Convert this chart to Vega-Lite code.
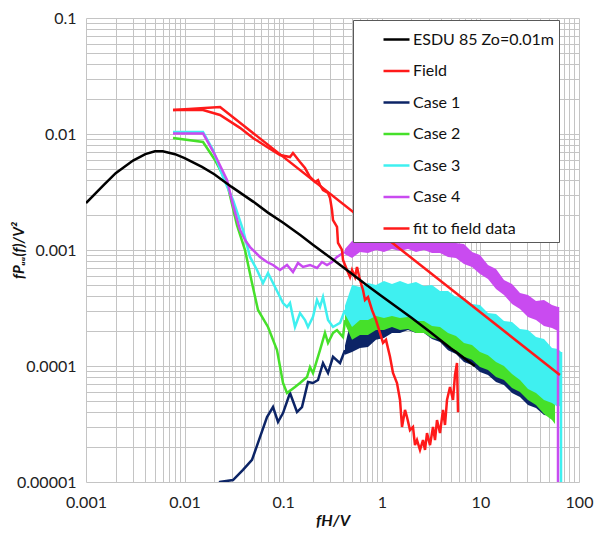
{
"$schema": "https://vega.github.io/schema/vega-lite/v6.json",
"width": 493, "height": 464,
"autosize": "none",
"padding": {"left": 86, "top": 18, "right": 15, "bottom": 53},
"background": "white",
"config": {
  "view": {"stroke": null},
  "axis": {"gridColor": "#c4c4c4", "gridWidth": 1, "domain": false, "ticks": false, "labelFont": "Lato", "labelFontSize": 16, "labelColor": "#222222", "titleFont": "Lato", "titleFontSize": 16, "titleColor": "#111111", "titleFontStyle": "italic", "titleFontWeight": "bold"},
  "legend": {"labelFont": "Lato", "labelFontSize": 16, "labelColor": "#111111"}
},
"datasets": {
"bands": [
{"s":"Case 1","f":0.4233,"v":0.00015,"v2":0.000125},{"s":"Case 1","f":0.4988,"v":0.000275,"v2":0.000132},{"s":"Case 1","f":0.6009,"v":0.000275,"v2":0.000143},{"s":"Case 1","f":0.7244,"v":0.00031,"v2":0.000146},{"s":"Case 1","f":0.8732,"v":0.000304,"v2":0.000168},{"s":"Case 1","f":1.052,"v":0.000336,"v2":0.000174},{"s":"Case 1","f":1.269,"v":0.000329,"v2":0.000193},{"s":"Case 1","f":1.53,"v":0.000356,"v2":0.000193},{"s":"Case 1","f":1.844,"v":0.000336,"v2":0.000204},{"s":"Case 1","f":2.223,"v":0.000356,"v2":0.000193},{"s":"Case 1","f":2.679,"v":0.000329,"v2":0.000193},{"s":"Case 1","f":3.229,"v":0.000336,"v2":0.000171},{"s":"Case 1","f":3.893,"v":0.000298,"v2":0.000161},{"s":"Case 1","f":4.693,"v":0.000298,"v2":0.000137},{"s":"Case 1","f":5.656,"v":0.000265,"v2":0.000127},{"s":"Case 1","f":6.818,"v":0.000259,"v2":0.000108},{"s":"Case 1","f":8.218,"v":0.000226,"v2":0.000102},{"s":"Case 1","f":9.908,"v":0.000221,"v2":0.0000888},{"s":"Case 1","f":11.94,"v":0.000193,"v2":0.0000836},{"s":"Case 1","f":14.4,"v":0.000189,"v2":0.0000728},{"s":"Case 1","f":17.35,"v":0.000161,"v2":0.0000686},{"s":"Case 1","f":20.92,"v":0.000158,"v2":0.0000585},{"s":"Case 1","f":25.21,"v":0.000137,"v2":0.0000541},{"s":"Case 1","f":30.39,"v":0.000132,"v2":0.0000461},{"s":"Case 1","f":36.64,"v":0.000113,"v2":0.0000434},{"s":"Case 1","f":44.16,"v":0.000108,"v2":0.0000378},{"s":"Case 1","f":53.23,"v":0.0000924,"v2":0.0000371},{"s":"Case 1","f":57.1,"v":0.0000942,"v2":0.0000342},
{"s":"Case 2","f":0.4233,"v":0.00027,"v2":0.00023},{"s":"Case 2","f":0.4988,"v":0.000426,"v2":0.000168},{"s":"Case 2","f":0.6009,"v":0.000426,"v2":0.000185},{"s":"Case 2","f":0.7244,"v":0.00048,"v2":0.000185},{"s":"Case 2","f":0.8732,"v":0.00047,"v2":0.000204},{"s":"Case 2","f":1.052,"v":0.000509,"v2":0.000204},{"s":"Case 2","f":1.269,"v":0.000489,"v2":0.000217},{"s":"Case 2","f":1.53,"v":0.000519,"v2":0.000204},{"s":"Case 2","f":1.844,"v":0.000489,"v2":0.000208},{"s":"Case 2","f":2.223,"v":0.000509,"v2":0.000193},{"s":"Case 2","f":2.679,"v":0.00047,"v2":0.000193},{"s":"Case 2","f":3.229,"v":0.00048,"v2":0.000174},{"s":"Case 2","f":3.893,"v":0.000426,"v2":0.000168},{"s":"Case 2","f":4.693,"v":0.000426,"v2":0.000146},{"s":"Case 2","f":5.656,"v":0.000378,"v2":0.000137},{"s":"Case 2","f":6.818,"v":0.000378,"v2":0.00012},{"s":"Case 2","f":8.218,"v":0.000329,"v2":0.000113},{"s":"Case 2","f":9.908,"v":0.000323,"v2":0.000098},{"s":"Case 2","f":11.94,"v":0.000281,"v2":0.0000924},{"s":"Case 2","f":14.4,"v":0.00027,"v2":0.0000804},{"s":"Case 2","f":17.35,"v":0.000235,"v2":0.0000757},{"s":"Case 2","f":20.92,"v":0.000226,"v2":0.0000646},{"s":"Case 2","f":25.21,"v":0.000196,"v2":0.0000597},{"s":"Case 2","f":30.39,"v":0.000189,"v2":0.0000509},{"s":"Case 2","f":36.64,"v":0.000161,"v2":0.0000461},{"s":"Case 2","f":44.16,"v":0.000158,"v2":0.0000386},{"s":"Case 2","f":53.23,"v":0.000132,"v2":0.0000342},{"s":"Case 2","f":57.1,"v":0.000132,"v2":0.0000316},
{"s":"Case 3","f":0.4233,"v":0.00033,"v2":0.00028},{"s":"Case 3","f":0.4988,"v":0.000499,"v2":0.000217},{"s":"Case 3","f":0.6009,"v":0.00048,"v2":0.000249},{"s":"Case 3","f":0.7244,"v":0.000519,"v2":0.000249},{"s":"Case 3","f":0.8732,"v":0.000499,"v2":0.00027},{"s":"Case 3","f":1.052,"v":0.00054,"v2":0.000259},{"s":"Case 3","f":1.269,"v":0.000509,"v2":0.00027},{"s":"Case 3","f":1.53,"v":0.00054,"v2":0.000259},{"s":"Case 3","f":1.844,"v":0.000509,"v2":0.000265},{"s":"Case 3","f":2.223,"v":0.00053,"v2":0.000244},{"s":"Case 3","f":2.679,"v":0.000489,"v2":0.000244},{"s":"Case 3","f":3.229,"v":0.000499,"v2":0.000221},{"s":"Case 3","f":3.893,"v":0.000443,"v2":0.000217},{"s":"Case 3","f":4.693,"v":0.000443,"v2":0.000193},{"s":"Case 3","f":5.656,"v":0.000393,"v2":0.000181},{"s":"Case 3","f":6.818,"v":0.000386,"v2":0.000158},{"s":"Case 3","f":8.218,"v":0.000342,"v2":0.000152},{"s":"Case 3","f":9.908,"v":0.000336,"v2":0.000132},{"s":"Case 3","f":11.94,"v":0.000286,"v2":0.000124},{"s":"Case 3","f":14.4,"v":0.000281,"v2":0.000108},{"s":"Case 3","f":17.35,"v":0.000244,"v2":0.0001},{"s":"Case 3","f":20.92,"v":0.00024,"v2":0.0000853},{"s":"Case 3","f":25.21,"v":0.000208,"v2":0.0000757},{"s":"Case 3","f":30.39,"v":0.000204,"v2":0.0000633},{"s":"Case 3","f":36.64,"v":0.000178,"v2":0.0000585},{"s":"Case 3","f":44.16,"v":0.000171,"v2":0.0000509},{"s":"Case 3","f":53.23,"v":0.000143,"v2":0.000048},{"s":"Case 3","f":61.24,"v":0.00014,"v2":0.0000443},{"s":"Case 3","f":65.71,"v":0.000132,"v2":0.0000461},
{"s":"Case 4","f":0.4233,"v":0.00102,"v2":0.00092},{"s":"Case 4","f":0.4988,"v":0.001196,"v2":0.000853},{"s":"Case 4","f":0.6009,"v":0.00122,"v2":0.000961},{"s":"Case 4","f":0.7244,"v":0.001346,"v2":0.000942},{"s":"Case 4","f":0.8732,"v":0.001294,"v2":0.001},{"s":"Case 4","f":1.052,"v":0.001401,"v2":0.000961},{"s":"Case 4","f":1.269,"v":0.001346,"v2":0.00102},{"s":"Case 4","f":1.53,"v":0.001429,"v2":0.00098},{"s":"Case 4","f":1.844,"v":0.001374,"v2":0.00102},{"s":"Case 4","f":2.223,"v":0.001458,"v2":0.000961},{"s":"Case 4","f":2.679,"v":0.001346,"v2":0.001},{"s":"Case 4","f":3.229,"v":0.001401,"v2":0.000942},{"s":"Case 4","f":3.893,"v":0.001294,"v2":0.000942},{"s":"Case 4","f":4.693,"v":0.001294,"v2":0.000871},{"s":"Case 4","f":5.656,"v":0.001149,"v2":0.000853},{"s":"Case 4","f":6.818,"v":0.001126,"v2":0.000757},{"s":"Case 4","f":8.218,"v":0.000961,"v2":0.000714},{"s":"Case 4","f":9.908,"v":0.000906,"v2":0.000621},{"s":"Case 4","f":11.94,"v":0.000743,"v2":0.000562},{"s":"Case 4","f":14.4,"v":0.000686,"v2":0.000461},{"s":"Case 4","f":17.35,"v":0.000551,"v2":0.000409},{"s":"Case 4","f":20.92,"v":0.000509,"v2":0.000342},{"s":"Case 4","f":25.21,"v":0.000426,"v2":0.00031},{"s":"Case 4","f":30.39,"v":0.000409,"v2":0.000265},{"s":"Case 4","f":36.64,"v":0.000363,"v2":0.000249},{"s":"Case 4","f":44.16,"v":0.000371,"v2":0.000221},{"s":"Case 4","f":53.23,"v":0.000336,"v2":0.000213},{"s":"Case 4","f":61.24,"v":0.000323,"v2":0.0002}
],
"cases": [
{"s":"Case 1","p":"a","f":0.02033,"v":0.0000085},{"s":"Case 1","p":"a","f":0.02286,"v":0.00001},{"s":"Case 1","p":"a","f":0.03097,"v":0.0000104},{"s":"Case 1","p":"a","f":0.03911,"v":0.0000127},{"s":"Case 1","p":"a","f":0.04826,"v":0.0000155},{"s":"Case 1","p":"a","f":0.05816,"v":0.0000244},{"s":"Case 1","p":"a","f":0.06852,"v":0.0000363},{"s":"Case 1","p":"a","f":0.07883,"v":0.0000443},{"s":"Case 1","p":"a","f":0.08859,"v":0.0000329},{"s":"Case 1","p":"a","f":0.09954,"v":0.0000393},{"s":"Case 1","p":"a","f":0.1172,"v":0.0000585},{"s":"Case 1","p":"a","f":0.138,"v":0.0000401},{"s":"Case 1","p":"a","f":0.1551,"v":0.0000443},{"s":"Case 1","p":"a","f":0.1784,"v":0.0000728},{"s":"Case 1","p":"a","f":0.2005,"v":0.0000714},{"s":"Case 1","p":"a","f":0.2254,"v":0.0000757},{"s":"Case 1","p":"a","f":0.2533,"v":0.000106},{"s":"Case 1","p":"a","f":0.2848,"v":0.000087},{"s":"Case 1","p":"a","f":0.32,"v":0.00012},{"s":"Case 1","p":"a","f":0.3769,"v":0.000106},{"s":"Case 1","p":"a","f":0.4233,"v":0.000137},
{"s":"Case 2","p":"a","f":0.00763,"v":0.00924},{"s":"Case 2","p":"a","f":0.01537,"v":0.00853},{"s":"Case 2","p":"a","f":0.02033,"v":0.00597},{"s":"Case 2","p":"a","f":0.02692,"v":0.00378},{"s":"Case 2","p":"a","f":0.034,"v":0.00164},{"s":"Case 2","p":"a","f":0.04099,"v":0.001},{"s":"Case 2","p":"a","f":0.04826,"v":0.000519},{"s":"Case 2","p":"a","f":0.05552,"v":0.000304},{"s":"Case 2","p":"a","f":0.07013,"v":0.000217},{"s":"Case 2","p":"a","f":0.08653,"v":0.000137},{"s":"Case 2","p":"a","f":0.09954,"v":0.0000714},{"s":"Case 2","p":"a","f":0.1093,"v":0.0000585},{"s":"Case 2","p":"a","f":0.1317,"v":0.0000659},{"s":"Case 2","p":"a","f":0.1481,"v":0.0000714},{"s":"Case 2","p":"a","f":0.1743,"v":0.0000804},{"s":"Case 2","p":"a","f":0.187,"v":0.000098},{"s":"Case 2","p":"a","f":0.2005,"v":0.000087},{"s":"Case 2","p":"a","f":0.2361,"v":0.000137},{"s":"Case 2","p":"a","f":0.2653,"v":0.000193},{"s":"Case 2","p":"a","f":0.2848,"v":0.000158},{"s":"Case 2","p":"a","f":0.32,"v":0.000193},{"s":"Case 2","p":"a","f":0.3513,"v":0.000204},{"s":"Case 2","p":"a","f":0.4041,"v":0.000178},{"s":"Case 2","p":"a","f":0.4233,"v":0.000249},
{"s":"Case 3","p":"a","f":0.00763,"v":0.0104},{"s":"Case 3","p":"a","f":0.01537,"v":0.0104},{"s":"Case 3","p":"a","f":0.01941,"v":0.00728},{"s":"Case 3","p":"a","f":0.02452,"v":0.00426},{"s":"Case 3","p":"a","f":0.03097,"v":0.0027},{"s":"Case 3","p":"a","f":0.03911,"v":0.00149},{"s":"Case 3","p":"a","f":0.04606,"v":0.000871},{"s":"Case 3","p":"a","f":0.05425,"v":0.000672},{"s":"Case 3","p":"a","f":0.0624,"v":0.000519},{"s":"Case 3","p":"a","f":0.07013,"v":0.000633},{"s":"Case 3","p":"a","f":0.07883,"v":0.000519},{"s":"Case 3","p":"a","f":0.08859,"v":0.000426},{"s":"Case 3","p":"a","f":0.09954,"v":0.000349},{"s":"Case 3","p":"a","f":0.1093,"v":0.000323},{"s":"Case 3","p":"a","f":0.1172,"v":0.000349},{"s":"Case 3","p":"a","f":0.1317,"v":0.000217},{"s":"Case 3","p":"a","f":0.1481,"v":0.000286},{"s":"Case 3","p":"a","f":0.1664,"v":0.000249},{"s":"Case 3","p":"a","f":0.1784,"v":0.000217},{"s":"Case 3","p":"a","f":0.2005,"v":0.000265},{"s":"Case 3","p":"a","f":0.2202,"v":0.000371},{"s":"Case 3","p":"a","f":0.2361,"v":0.000323},{"s":"Case 3","p":"a","f":0.2533,"v":0.000393},{"s":"Case 3","p":"a","f":0.2848,"v":0.000249},{"s":"Case 3","p":"a","f":0.32,"v":0.000217},{"s":"Case 3","p":"a","f":0.3769,"v":0.000235},{"s":"Case 3","p":"a","f":0.4233,"v":0.000304},
{"s":"Case 3","p":"d","f":65.71,"v":0.000132},{"s":"Case 3","p":"d","f":65.71,"v":0.000005},
{"s":"Case 4","p":"a","f":0.00763,"v":0.0101},{"s":"Case 4","p":"a","f":0.01537,"v":0.0101},{"s":"Case 4","p":"a","f":0.02033,"v":0.00659},{"s":"Case 4","p":"a","f":0.02692,"v":0.00401},{"s":"Case 4","p":"a","f":0.03097,"v":0.00244},{"s":"Case 4","p":"a","f":0.03646,"v":0.00149},{"s":"Case 4","p":"a","f":0.04099,"v":0.00122},{"s":"Case 4","p":"a","f":0.04606,"v":0.00106},{"s":"Case 4","p":"a","f":0.05816,"v":0.000871},{"s":"Case 4","p":"a","f":0.06852,"v":0.000788},{"s":"Case 4","p":"a","f":0.07883,"v":0.000743},{"s":"Case 4","p":"a","f":0.0928,"v":0.000672},{"s":"Case 4","p":"a","f":0.1093,"v":0.000743},{"s":"Case 4","p":"a","f":0.1257,"v":0.000646},{"s":"Case 4","p":"a","f":0.1413,"v":0.000773},{"s":"Case 4","p":"a","f":0.1588,"v":0.000714},{"s":"Case 4","p":"a","f":0.187,"v":0.000743},{"s":"Case 4","p":"a","f":0.2202,"v":0.0007},{"s":"Case 4","p":"a","f":0.2474,"v":0.000788},{"s":"Case 4","p":"a","f":0.278,"v":0.000743},{"s":"Case 4","p":"a","f":0.3126,"v":0.000788},{"s":"Case 4","p":"a","f":0.3513,"v":0.000871},{"s":"Case 4","p":"a","f":0.4041,"v":0.000942},{"s":"Case 4","p":"a","f":0.4233,"v":0.000961},
{"s":"Case 4","p":"d","f":61.24,"v":0.000323},{"s":"Case 4","p":"d","f":61.24,"v":0.000005}
],
"others": [
{"s":"Field","p":"a","f":0.00763,"v":0.0161},{"s":"Field","p":"a","f":0.01537,"v":0.0161},{"s":"Field","p":"a","f":0.02286,"v":0.0146},{"s":"Field","p":"a","f":0.03646,"v":0.0113},{"s":"Field","p":"a","f":0.04939,"v":0.00924},{"s":"Field","p":"a","f":0.06852,"v":0.00772},{"s":"Field","p":"a","f":0.0928,"v":0.00659},{"s":"Field","p":"a","f":0.1172,"v":0.00633},{"s":"Field","p":"a","f":0.1257,"v":0.00686},{"s":"Field","p":"a","f":0.1481,"v":0.00574},{"s":"Field","p":"a","f":0.1664,"v":0.00509},{"s":"Field","p":"a","f":0.187,"v":0.00426},{"s":"Field","p":"a","f":0.2102,"v":0.00386},{"s":"Field","p":"a","f":0.2254,"v":0.00401},{"s":"Field","p":"a","f":0.2361,"v":0.00363},{"s":"Field","p":"a","f":0.2533,"v":0.00329},{"s":"Field","p":"a","f":0.2848,"v":0.0031},{"s":"Field","p":"a","f":0.2984,"v":0.00281},{"s":"Field","p":"a","f":0.3126,"v":0.00221},{"s":"Field","p":"a","f":0.32,"v":0.00181},{"s":"Field","p":"a","f":0.3513,"v":0.00158},{"s":"Field","p":"a","f":0.3596,"v":0.00115},{"s":"Field","p":"a","f":0.3948,"v":0.001},{"s":"Field","p":"a","f":0.4041,"v":0.00082},{"s":"Field","p":"a","f":0.4437,"v":0.000672},{"s":"Field","p":"a","f":0.476,"v":0.000585},{"s":"Field","p":"a","f":0.4988,"v":0.000672},{"s":"Field","p":"a","f":0.5349,"v":0.000585},{"s":"Field","p":"a","f":0.5605,"v":0.000714},{"s":"Field","p":"a","f":0.6009,"v":0.000551},{"s":"Field","p":"a","f":0.6447,"v":0.000452},{"s":"Field","p":"a","f":0.6755,"v":0.000371},{"s":"Field","p":"a","f":0.7244,"v":0.000393},{"s":"Field","p":"a","f":0.7954,"v":0.000304},{"s":"Field","p":"a","f":0.8732,"v":0.000249},{"s":"Field","p":"a","f":0.9588,"v":0.000193},{"s":"Field","p":"a","f":1.0285,"v":0.000158},{"s":"Field","p":"a","f":1.103,"v":0.000168},{"s":"Field","p":"a","f":1.211,"v":0.00012},{"s":"Field","p":"a","f":1.299,"v":0.000087},{"s":"Field","p":"a","f":1.426,"v":0.0000714},{"s":"Field","p":"a","f":1.53,"v":0.0000509},{"s":"Field","p":"a","f":1.603,"v":0.0000298},{"s":"Field","p":"a","f":1.719,"v":0.0000418},{"s":"Field","p":"a","f":1.801,"v":0.0000363},{"s":"Field","p":"a","f":1.932,"v":0.000028},{"s":"Field","p":"a","f":2.072,"v":0.0000298},{"s":"Field","p":"a","f":2.171,"v":0.0000208},{"s":"Field","p":"a","f":2.275,"v":0.000023},{"s":"Field","p":"a","f":2.44,"v":0.0000189},{"s":"Field","p":"a","f":2.617,"v":0.000023},{"s":"Field","p":"a","f":2.743,"v":0.0000189},{"s":"Field","p":"a","f":2.873,"v":0.0000264},{"s":"Field","p":"a","f":3.083,"v":0.0000208},{"s":"Field","p":"a","f":3.306,"v":0.0000298},{"s":"Field","p":"a","f":3.464,"v":0.000023},{"s":"Field","p":"a","f":3.629,"v":0.0000342},{"s":"Field","p":"a","f":3.893,"v":0.0000264},{"s":"Field","p":"a","f":4.176,"v":0.0000418},{"s":"Field","p":"a","f":4.375,"v":0.000031},{"s":"Field","p":"a","f":4.585,"v":0.0000509},{"s":"Field","p":"a","f":4.918,"v":0.0000659},{"s":"Field","p":"a","f":5.274,"v":0.0000509},{"s":"Field","p":"a","f":5.526,"v":0.0000836},{"s":"Field","p":"a","f":5.79,"v":0.000106},{"s":"Field","p":"a","f":5.93,"v":0.00004},
{"s":"ESDU 85 Zo=0.01m","p":"a","f":0.001,"v":0.00254},{"s":"ESDU 85 Zo=0.01m","p":"a","f":0.0015,"v":0.0036},{"s":"ESDU 85 Zo=0.01m","p":"a","f":0.002,"v":0.0046},{"s":"ESDU 85 Zo=0.01m","p":"a","f":0.003,"v":0.0059},{"s":"ESDU 85 Zo=0.01m","p":"a","f":0.004,"v":0.0067},{"s":"ESDU 85 Zo=0.01m","p":"a","f":0.005,"v":0.0071},{"s":"ESDU 85 Zo=0.01m","p":"a","f":0.006,"v":0.0071},{"s":"ESDU 85 Zo=0.01m","p":"a","f":0.008,"v":0.0067},{"s":"ESDU 85 Zo=0.01m","p":"a","f":0.01,"v":0.0062},{"s":"ESDU 85 Zo=0.01m","p":"a","f":0.015,"v":0.0052},{"s":"ESDU 85 Zo=0.01m","p":"a","f":0.02,"v":0.0045},{"s":"ESDU 85 Zo=0.01m","p":"a","f":0.03,"v":0.0035},{"s":"ESDU 85 Zo=0.01m","p":"a","f":0.05,"v":0.0026},{"s":"ESDU 85 Zo=0.01m","p":"a","f":0.07,"v":0.0021},{"s":"ESDU 85 Zo=0.01m","p":"a","f":0.1,"v":0.00172},{"s":"ESDU 85 Zo=0.01m","p":"a","f":0.15,"v":0.00134},{"s":"ESDU 85 Zo=0.01m","p":"a","f":0.2,"v":0.00111},{"s":"ESDU 85 Zo=0.01m","p":"a","f":0.3,"v":0.00086},{"s":"ESDU 85 Zo=0.01m","p":"a","f":0.5,"v":0.00062},{"s":"ESDU 85 Zo=0.01m","p":"a","f":0.7,"v":0.0005},{"s":"ESDU 85 Zo=0.01m","p":"a","f":1,"v":0.0004},{"s":"ESDU 85 Zo=0.01m","p":"a","f":2,"v":0.00026},{"s":"ESDU 85 Zo=0.01m","p":"a","f":3,"v":0.0002},{"s":"ESDU 85 Zo=0.01m","p":"a","f":5,"v":0.000142},{"s":"ESDU 85 Zo=0.01m","p":"a","f":8.8,"v":0.0001},
{"s":"fit to field data","p":"a","f":0.00763,"v":0.0161},{"s":"fit to field data","p":"a","f":0.0229,"v":0.0171},{"s":"fit to field data","p":"a","f":64,"v":0.0000836}
]
},
"encoding": {
  "x": {"field": "f", "type": "quantitative", "title": "fH/V",
        "scale": {"type": "log", "domain": [0.001, 100], "nice": false},
        "axis": {"values": [0.001,0.002,0.003,0.004,0.005,0.006,0.007,0.008,0.009,0.01,0.02,0.03,0.04,0.05,0.06,0.07,0.08,0.09,0.1,0.2,0.3,0.4,0.5,0.6,0.7,0.8,0.9,1,2,3,4,5,6,7,8,9,10,20,30,40,50,60,70,80,90,100],
                 "format": ".3~f", "labelExpr": "indexof(['0.001','0.01','0.1','1','10','100'], datum.label) >= 0 ? datum.label : ''",
                 "labelPadding": 12, "titlePadding": 2, "labelFlush": false, "labelOverlap": false}},
  "y": {"field": "v", "type": "quantitative", "title": "fPᵤᵤ(f)/V²",
        "scale": {"type": "log", "domain": [0.00001, 0.1], "nice": false},
        "axis": {"values": [0.00001,0.00002,0.00003,0.00004,0.00005,0.00006,0.00007,0.00008,0.00009,0.0001,0.0002,0.0003,0.0004,0.0005,0.0006,0.0007,0.0008,0.0009,0.001,0.002,0.003,0.004,0.005,0.006,0.007,0.008,0.009,0.01,0.02,0.03,0.04,0.05,0.06,0.07,0.08,0.09,0.1],
                 "format": ".5~f", "labelExpr": "indexof(['0.00001','0.0001','0.001','0.01','0.1'], datum.label) >= 0 ? datum.label : ''",
                 "labelPadding": 10, "labelFlush": false, "labelOverlap": false, "titleX": -60, "titleAngle": -90, "titleBaseline": "bottom", "titleFontSize": 15}}
},
"layer": [
  {"data": {"name": "bands"},
   "mark": {"type": "area", "clip": true, "opacity": 1},
   "encoding": {"y2": {"field": "v2"},
     "fill": {"field": "s", "type": "nominal", "legend": null,
              "scale": {"domain": ["Case 1","Case 2","Case 3","Case 4"], "range": ["#0c2466","#46e02a","#3ff0f0","#c94bf0"]}}}},
  {"data": {"name": "cases"},
   "mark": {"type": "line", "clip": true, "strokeWidth": 2.5},
   "encoding": {
     "color": {"field": "s", "type": "nominal",
        "scale": {"domain": ["ESDU 85 Zo=0.01m","Field","Case 1","Case 2","Case 3","Case 4","fit to field data"], "range": ["#000000","#ff1a1a","#0c2466","#46e02a","#3ff0f0","#c94bf0","#ff1a1a"]},
        "legend": {"title": null, "orient": "none", "legendX": 267, "legendY": 2, "fillColor": "white", "strokeColor": "#595959", "padding": 5, "symbolOffset": 24, "symbolType": "stroke", "symbolSize": 676, "symbolStrokeWidth": 2.5, "labelOffset": 2, "rowPadding": 8.5, "labelFontSize": 16}},
     "detail": {"field": "p"}}},
  {"data": {"name": "others"},
   "mark": {"type": "line", "clip": true, "strokeWidth": 2.5},
   "encoding": {
     "color": {"field": "s", "type": "nominal"},
     "detail": {"field": "p"}}}
]
}
